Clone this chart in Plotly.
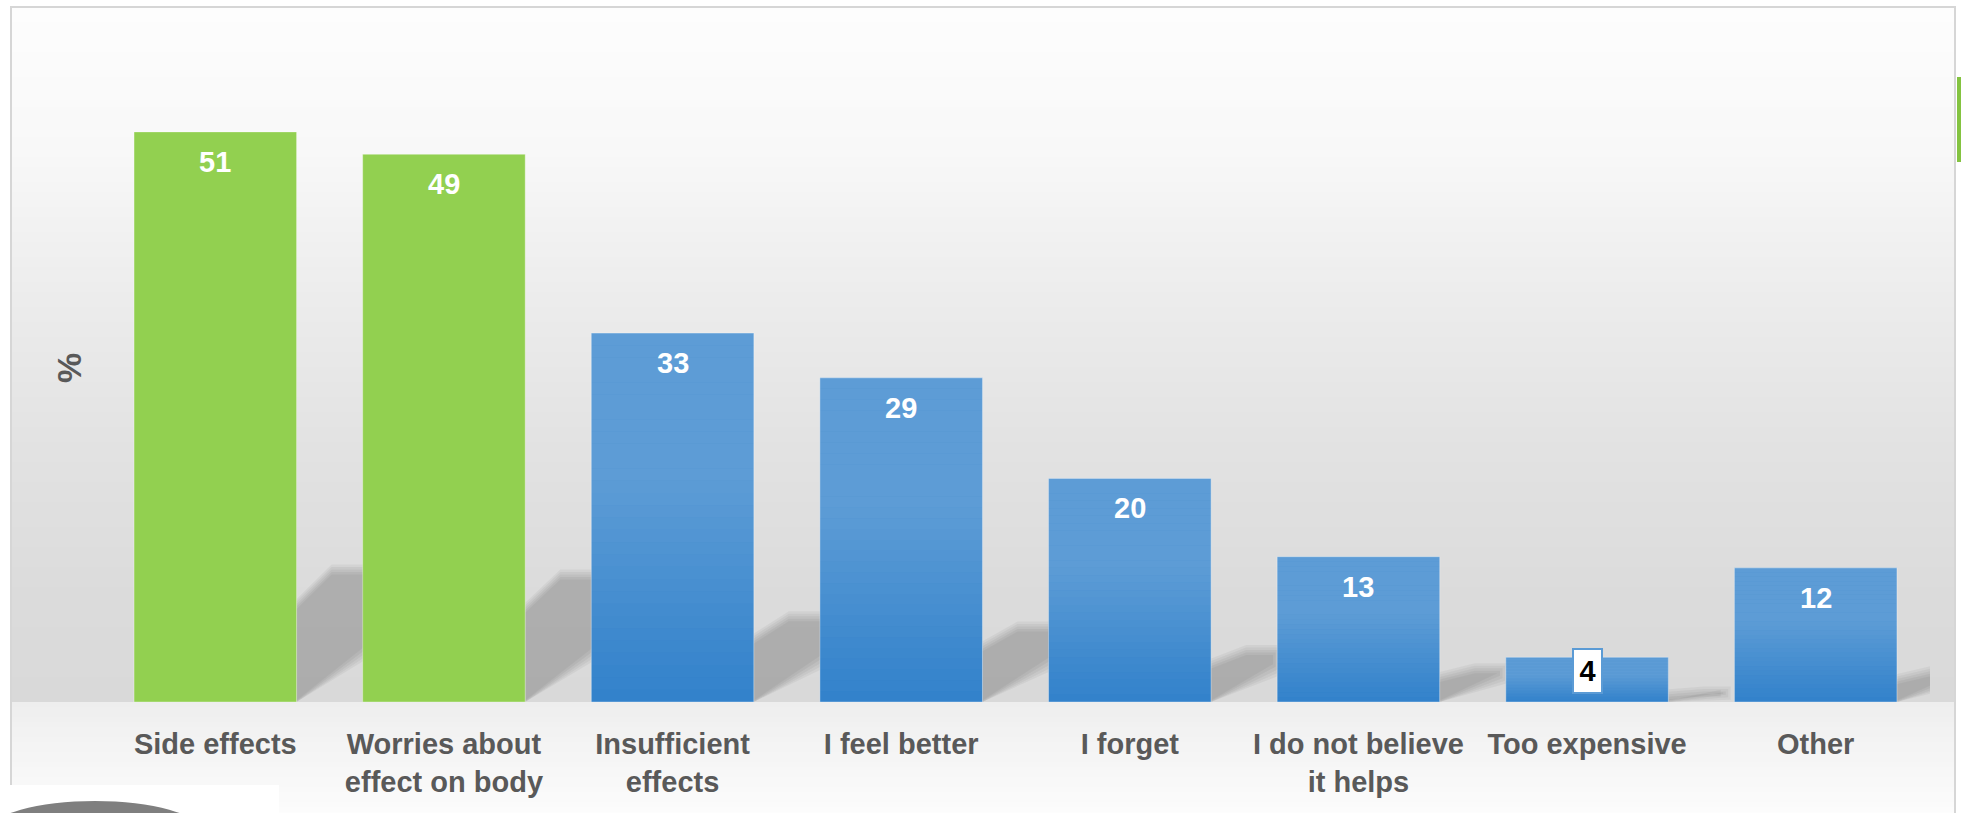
import numpy as np
import plotly.graph_objects as go

# ---------------- data ----------------
categories = ["Side effects", "Worries about<br>effect on body", "Insufficient<br>effects",
              "I feel better", "I forget", "I do not believe<br>it helps", "Too expensive", "Other"]
values = [51, 49, 33, 29, 20, 13, 4, 12]
y_title = "%"

# ---------------- style ----------------
GREEN = "#92d050"
BLUE_BOTTOM = "#3282cb"
n_highlight = 2
bar_colors = [GREEN if i < n_highlight else BLUE_BOTTOM for i in range(len(values))]
FONT = "Liberation Sans, Arial, sans-serif"
TXT = "#595959"

W, H = 1961, 813
ML, MR, MT, MB = 101, 31, 76, 111
YMAX = 56
PW = W - ML - MR
PH = H - MT - MB
px_per_unit = PH / YMAX
px_per_cat = PW / len(values)
BARGAP = 0.289
HALF = (1 - BARGAP) / 2


def xp(px):
    return (px - ML) / PW


def yp(py):
    return (H - MB - py) / PH


shapes = []

# background gradient (panel)
stops_y = [7, 150, 300, 450, 600, 700, 704, 740, 813]
stops_g = [253, 248, 236, 226, 219, 217, 238, 243, 252]
band_edges = np.arange(7, 814, 5)
for a, b in zip(band_edges[:-1], band_edges[1:]):
    g = int(round(np.interp((a + b) / 2, stops_y, stops_g)))
    shapes.append(dict(type="rect", xref="paper", yref="paper", x0=xp(11), x1=xp(1955),
                       y0=yp(b + 0.5), y1=yp(a), fillcolor=f"rgb({g},{g},{g})",
                       line=dict(width=0), layer="below"))

# panel frame
shapes.append(dict(type="rect", xref="paper", yref="paper", x0=xp(11), x1=xp(1955),
                   y0=yp(840), y1=yp(7), fillcolor="rgba(0,0,0,0)",
                   line=dict(color="#d6d6d6", width=2), layer="below"))
# bottom-left decoration
shapes.append(dict(type="rect", xref="paper", yref="paper", x0=xp(0), x1=xp(279),
                   y0=yp(813), y1=yp(785), fillcolor="white", line=dict(width=0), layer="below"))
shapes.append(dict(type="circle", xref="paper", yref="paper", x0=xp(-10), x1=xp(200),
                   y0=yp(860), y1=yp(801), fillcolor="#7f7f7f", line=dict(width=0), layer="below"))
# right green strip
shapes.append(dict(type="rect", xref="paper", yref="paper", x0=xp(1957), x1=xp(1962),
                   y0=yp(162), y1=yp(77), fillcolor="#84c341", line=dict(width=0), layer="below"))

# perspective floor shadows of the bars (soft, made of several layered polygons)
n = len(values)
for i, v in enumerate(values):
    R = i + HALF
    dy = 2.6 * v                      # shadow height in px
    ww = 55 + 0.6 * v                 # how far right the shadow reaches, px
    low = min((0.35 + 0.007 * v) * ww, 0.7 * dy)
    e = 35
    for d in [-5, -2.5, 0, 2.5, 5]:
        pts = [(0, 0 - d * 0.3),
               (ww + d, max(low - d, 0)),
               (ww + d, dy + d),
               (e, dy + d),
               (0, 0.74 * dy + d)]
        path = "M " + " L ".join(
            f"{R + px / px_per_cat:.4f},{max(py, 0) / px_per_unit:.4f}" for px, py in pts) + " Z"
        shapes.append(dict(type="path", xref="x", yref="y", path=path,
                           fillcolor="rgba(0,0,0,0.042)", line=dict(width=0), layer="below"))

# light gradient over blue bars (white overlay, stronger at top)
NB = 30
for i, v in enumerate(values):
    if i < n_highlight:
        continue
    for k in range(NB):
        y0 = v * k / NB
        y1 = v * (k + 1) / NB
        t = (k + 0.5) / NB
        op = 0.21 * min(1.0, t / 0.6)
        shapes.append(dict(type="rect", xref="x", yref="y", x0=i - HALF, x1=i + HALF,
                           y0=y0, y1=y1, fillcolor=f"rgba(255,255,255,{op:.3f})",
                           line=dict(width=0), layer="above"))

fig = go.Figure()
fig.add_trace(go.Bar(
    x=list(range(n)), y=values,
    marker=dict(color=bar_colors, line=dict(color="rgba(255,255,255,0.35)", width=1)),
    hoverinfo="skip",
))

annotations = []
for i, v in enumerate(values):
    if v * px_per_unit < 60:
        annotations.append(dict(x=i, y=v, xref="x", yref="y", text=f"<b>{v}</b>",
                                showarrow=False, yanchor="middle", yshift=-14,
                                width=27, height=42, align="center", valign="middle",
                                font=dict(family=FONT, size=29, color="black"),
                                bgcolor="white", bordercolor="#5b9bd5", borderwidth=2, borderpad=0))
    else:
        annotations.append(dict(x=i, y=v, xref="x", yref="y", text=f"<b>{v}</b>",
                                showarrow=False, yanchor="top", yshift=-12,
                                font=dict(family=FONT, size=29, color="white")))

annotations.append(dict(x=xp(69), y=yp(368), xref="paper", yref="paper", text=f"<b>{y_title}</b>",
                        showarrow=False, textangle=-90, xanchor="center", yanchor="middle",
                        font=dict(family=FONT, size=34, color=TXT)))

fig.update_layout(
    width=W, height=H,
    margin=dict(l=ML, r=MR, t=MT, b=MB, autoexpand=False),
    paper_bgcolor="white", plot_bgcolor="rgba(0,0,0,0)",
    bargap=BARGAP, showlegend=False,
    shapes=shapes, annotations=annotations,
    xaxis=dict(range=[-0.5, n - 0.5], tickmode="array", tickvals=list(range(n)),
               ticktext=[f"<b>{c}</b>" for c in categories], showgrid=False, zeroline=False,
               showline=False, ticks="", ticklabelstandoff=22, tickangle=0,
               tickfont=dict(family=FONT, size=29, color=TXT), fixedrange=True),
    yaxis=dict(range=[0, YMAX], showticklabels=False, showgrid=False, zeroline=False,
               showline=False, ticks="", fixedrange=True),
)

fig.write_html("out.html", config={"displayModeBar": False},
               post_script="document.body.style.margin='0';")
